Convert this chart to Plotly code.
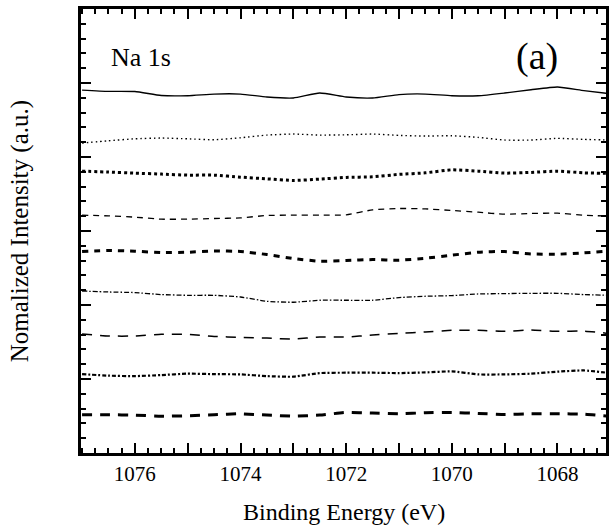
import plotly.graph_objects as go

energy = [1077.0, 1076.5, 1076.0, 1075.5, 1075.0, 1074.5, 1074.0, 1073.5, 1073.0, 1072.5,
          1072.0, 1071.5, 1071.0, 1070.5, 1070.0, 1069.5, 1069.0, 1068.5, 1068.0, 1067.5, 1067.0]

s1 = [4.905, 4.888, 4.885, 4.831, 4.828, 4.851, 4.851, 4.811, 4.797, 4.865, 4.811,
      4.797, 4.844, 4.851, 4.828, 4.828, 4.865, 4.909, 4.946, 4.898, 4.855]
s2 = [4.188, 4.219, 4.246, 4.256, 4.246, 4.233, 4.260, 4.296, 4.310, 4.296, 4.300,
      4.310, 4.292, 4.283, 4.287, 4.265, 4.229, 4.229, 4.252, 4.238, 4.229]
s3 = [3.809, 3.796, 3.782, 3.769, 3.755, 3.755, 3.728, 3.705, 3.683, 3.701, 3.724,
      3.732, 3.765, 3.786, 3.827, 3.809, 3.782, 3.792, 3.809, 3.786, 3.778]
s4 = [3.214, 3.204, 3.187, 3.160, 3.160, 3.169, 3.177, 3.210, 3.214, 3.214, 3.218,
      3.286, 3.304, 3.299, 3.277, 3.254, 3.227, 3.237, 3.241, 3.214, 3.200]
s5 = [2.723, 2.736, 2.727, 2.709, 2.713, 2.731, 2.723, 2.682, 2.628, 2.591, 2.601,
      2.614, 2.605, 2.632, 2.673, 2.713, 2.723, 2.690, 2.686, 2.704, 2.731]
s6 = [2.189, 2.176, 2.168, 2.141, 2.131, 2.131, 2.108, 2.050, 2.037, 2.064, 2.064,
      2.064, 2.100, 2.118, 2.127, 2.149, 2.154, 2.158, 2.158, 2.141, 2.131]
s7 = [1.608, 1.581, 1.581, 1.604, 1.604, 1.576, 1.563, 1.553, 1.540, 1.567, 1.567,
      1.594, 1.617, 1.635, 1.658, 1.658, 1.644, 1.662, 1.644, 1.648, 1.613]
s8 = [1.066, 1.045, 1.039, 1.053, 1.072, 1.066, 1.062, 1.039, 1.031, 1.080, 1.085,
      1.085, 1.080, 1.089, 1.103, 1.062, 1.062, 1.072, 1.099, 1.116, 1.080]
s9 = [0.517, 0.517, 0.512, 0.498, 0.503, 0.517, 0.530, 0.512, 0.498, 0.512, 0.548,
      0.539, 0.530, 0.544, 0.548, 0.535, 0.521, 0.530, 0.530, 0.525, 0.494]

series = [s1, s2, s3, s4, s5, s6, s7, s8, s9]
styles = [
    ("solid", 1.3),
    ("1.5px,3px", 1.4),
    ("3px,3px", 3.0),
    ("6px,5px", 1.3),
    ("6px,6px", 3.0),
    ("5px,2px,1.5px,2px", 1.3),
    ("10px,8px", 1.5),
    ("4px,2px,2px,2px", 2.2),
    ("10px,8px", 3.0),
]

major_x = [1068, 1069, 1070, 1071, 1072, 1073, 1074, 1075, 1076]
major_x_text = ["1068", "", "1070", "", "1072", "", "1074", "", "1076"]

fig = go.Figure()
for ys, (dash, w) in zip(series, styles):
    fig.add_trace(go.Scatter(x=energy, y=ys, mode="lines",
                             line=dict(color="black", width=w, dash=dash, shape="spline", smoothing=0.5),
                             showlegend=False, hoverinfo="skip"))

font_family = "Times New Roman, Liberation Serif, Tinos, DejaVu Serif, serif"
fig.update_layout(
    width=613, height=528,
    margin=dict(l=81, r=4, t=9, b=75),
    paper_bgcolor="white", plot_bgcolor="white",
    font=dict(family=font_family, color="black", size=21),
)
fig.update_xaxes(
    range=[1077.02, 1067.08], showgrid=False, zeroline=False,
    showline=True, linewidth=3, linecolor="black", mirror="allticks",
    ticks="inside", ticklen=10, tickwidth=2, tickcolor="black",
    tickvals=major_x, ticktext=major_x_text, tickfont=dict(size=21, family=font_family),
    minor=dict(dtick=0.25, ticks="inside", ticklen=5, tickwidth=2, tickcolor="black", showgrid=False),
)
fig.update_yaxes(
    range=[0, 6], showgrid=False, zeroline=False,
    showline=True, linewidth=3, linecolor="black", mirror="allticks",
    ticks="inside", ticklen=10, tickwidth=2, tickcolor="black",
    dtick=1, showticklabels=False,
    minor=dict(dtick=0.2, ticks="inside", ticklen=5, tickwidth=2, tickcolor="black", showgrid=False),
)
fig.add_annotation(text="Na 1s", xref="paper", yref="paper", x=0.053, y=0.89,
                   xanchor="left", yanchor="middle", showarrow=False,
                   font=dict(size=26, family=font_family))
fig.add_annotation(text="(a)", xref="paper", yref="paper", x=0.869, y=0.892,
                   xanchor="center", yanchor="middle", showarrow=False,
                   font=dict(size=38, family=font_family))
fig.add_annotation(text="Binding Energy (eV)", xref="paper", yref="paper", x=0.5, y=-0.133,
                   xanchor="center", yanchor="middle", showarrow=False,
                   font=dict(size=24, family=font_family))
fig.add_annotation(text="Nomalized Intensity (a.u.)", xref="paper", yref="paper", x=-0.1155, y=0.5,
                   xanchor="center", yanchor="middle", showarrow=False, textangle=-90,
                   font=dict(size=25, family=font_family))

fig.write_html("out.html")
